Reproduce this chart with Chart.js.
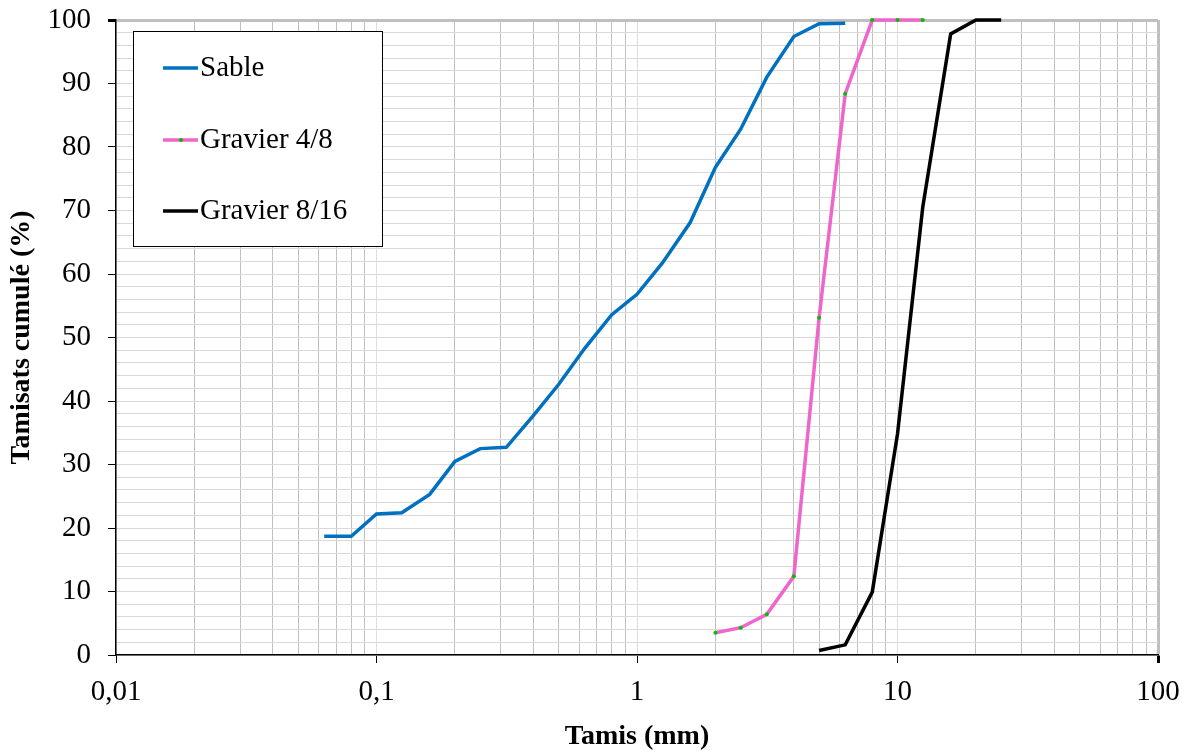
<!DOCTYPE html>
<html lang="fr">
  <head>
    <meta charset="UTF-8" />
    <title>Courbes granulométriques</title>
    <script src="https://cdn.jsdelivr.net/npm/chart.js"></script>
    <style>
      html, body { margin: 0; padding: 0; background: #fff; }
      #wrap { width: 1192px; height: 754px; }
    </style>
  </head>
  <body>
    <div id="wrap"><canvas id="granulo" width="1192" height="754"></canvas></div>
    <script>
      // sieve openings (mm) and cumulative passing (%)
      const sableSieves = [0.063, 0.08, 0.1, 0.125, 0.16, 0.2, 0.25, 0.315, 0.4, 0.5, 0.63, 0.8, 1, 1.25, 1.6, 2, 2.5, 3.15, 4, 5, 6.3];
      const sablePassing = [18.7, 18.7, 22.2, 22.4, 25.3, 30.5, 32.5, 32.7, 37.7, 42.6, 48.3, 53.6, 56.8, 61.7, 68.1, 76.8, 82.8, 91.0, 97.4, 99.4, 99.5];

      const g48Sieves = [2, 2.5, 3.15, 4, 5, 6.3, 8, 10, 12.5];
      const g48Passing = [3.5, 4.3, 6.4, 12.4, 53.1, 88.4, 100, 100, 100];

      const g816Sieves = [5, 6.3, 8, 10, 12.5, 16, 20, 25];
      const g816Passing = [0.7, 1.6, 9.9, 34.8, 70.5, 97.8, 100, 100];

      const xTickValues = [];
      for (let d = 0.01; d < 99; d *= 10) {
        for (let k = 1; k < 10; k++) xTickValues.push(+(d * k).toPrecision(3));
      }
      xTickValues.push(100);
      const xDecades = [0.01, 0.1, 1, 10, 100];

      const serif = "'Liberation Serif', 'Times New Roman', serif";

      const pts = (xs, ys) => xs.map((x, i) => ({ x: x, y: ys[i] }));

      const legendBox = {
        id: "legendBox",
        afterDraw(chart) {
          const ctx = chart.ctx;
          ctx.save();
          ctx.fillStyle = "#fff";
          ctx.fillRect(133, 31, 249, 215);
          ctx.strokeStyle = "#000";
          ctx.lineWidth = 1;
          ctx.strokeRect(133.5, 31.5, 249, 215);
          const rows = [68, 140, 211];
          chart.data.datasets.forEach((ds, i) => {
            const y = rows[i];
            ctx.strokeStyle = ds.borderColor;
            ctx.lineWidth = 3.5;
            ctx.beginPath();
            ctx.moveTo(163, y);
            ctx.lineTo(198, y);
            ctx.stroke();
            if (ds.pointRadius > 0) {
              ctx.fillStyle = ds.pointBackgroundColor;
              ctx.beginPath();
              ctx.arc(181, y, 2, 0, Math.PI * 2);
              ctx.fill();
            }
            ctx.fillStyle = "#000";
            ctx.font = "29px " + serif;
            ctx.textBaseline = "middle";
            ctx.textAlign = "left";
            ctx.fillText(ds.label, 200, y);
          });
          ctx.restore();
        },
      };

      new Chart(document.getElementById("granulo"), {
        type: "line",
        data: {
          datasets: [
            {
              label: "Sable",
              data: pts(sableSieves, sablePassing),
              borderColor: "#0070c0",
              borderWidth: 3.5,
              pointRadius: 0,
            },
            {
              label: "Gravier 4/8",
              data: pts(g48Sieves, g48Passing),
              borderColor: "#ee66cc",
              borderWidth: 3.5,
              pointRadius: 2,
              pointBorderWidth: 0,
              pointBackgroundColor: "#00c000",
            },
            {
              label: "Gravier 8/16",
              data: pts(g816Sieves, g816Passing),
              borderColor: "#000000",
              borderWidth: 3.5,
              pointRadius: 0,
            },
          ],
        },
        options: {
          responsive: false,
          animation: false,
          clip: false,
          layout: { padding: { left: 0, right: 34, top: 20, bottom: 0 } },
          plugins: { legend: { display: false }, tooltip: { enabled: false } },
          elements: { line: { tension: 0 } },
          scales: {
            x: {
              type: "logarithmic",
              min: 0.01,
              max: 100,
              afterFit: (s) => { s.height = 99; s.paddingLeft = 0; s.paddingRight = 0; },
              afterBuildTicks: (s) => { s.ticks = xTickValues.map((v) => ({ value: v })); },
              ticks: {
                autoSkip: false,
                maxRotation: 0,
                padding: 12,
                color: "#000",
                font: { family: serif, size: 29 },
                callback: (v) => (xDecades.includes(v) ? String(v).replace(".", ",") : ""),
              },
              grid: {
                tickLength: 8,
                color: (c) => {
                  const v = c.tick && c.tick.value;
                  if (v === 100) return "#bfbfbf";
                  return xDecades.includes(v) ? "#dedede" : "#bfbfbf";
                },
                lineWidth: (c) => (c.tick && c.tick.value === 100 ? 3 : 1),
                tickColor: (c) => (xDecades.includes(c.tick && c.tick.value) ? "#000" : "rgba(0,0,0,0)"),
              },
              border: { color: "#000", width: 1.5 },
              title: {
                display: true,
                text: "Tamis (mm)",
                color: "#000",
                font: { family: serif, size: 28, weight: "bold" },
                padding: { top: 0, bottom: 0 },
              },
            },
            y: {
              min: 0,
              max: 100,
              afterFit: (s) => { s.width = 116; s.paddingTop = 0; s.paddingBottom = 0; },
              ticks: {
                stepSize: 2,
                autoSkip: false,
                padding: 17,
                color: "#000",
                font: { family: serif, size: 29 },
                callback: (v) => (v % 10 === 0 ? String(v) : ""),
              },
              grid: {
                tickLength: 8,
                color: (c) => (c.tick && c.tick.value === 100 ? "#bfbfbf" : "#d9d9d9"),
                lineWidth: (c) => (c.tick && c.tick.value === 100 ? 3 : 1),
                tickColor: (c) => (c.tick && c.tick.value % 10 === 0 ? "#000" : "rgba(0,0,0,0)"),
              },
              border: { color: "#000", width: 1.5 },
              title: {
                display: true,
                text: "Tamisats cumulé (%)",
                color: "#000",
                font: { family: serif, size: 28, weight: "bold" },
                padding: { top: 5, bottom: 0 },
              },
            },
          },
        },
        plugins: [legendBox],
      });
    </script>
  </body>
</html>
